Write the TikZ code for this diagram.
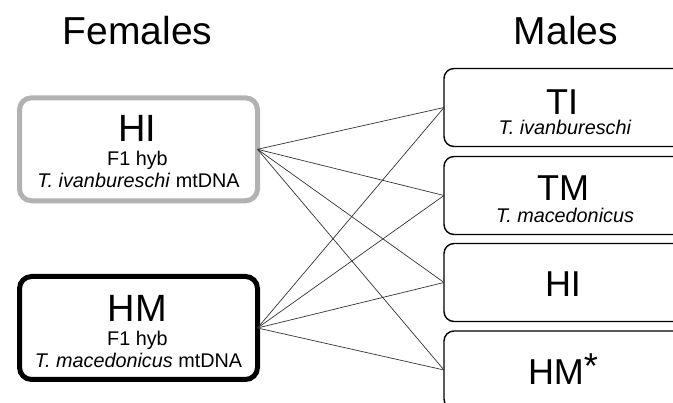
\documentclass[tikz,border=0pt]{standalone}
\usepackage{fontspec}
\setmainfont{Liberation Sans}
\begin{document}
\begin{tikzpicture}[x=1pt,y=-1pt,
  fbox/.style={draw, rounded corners=12pt, line width=5pt, minimum width=238pt, minimum height=103pt, outer sep=0pt, inner sep=0pt},
  mbox/.style={draw, rounded corners=10pt, line width=1.4pt, minimum width=242pt, minimum height=78pt, outer sep=0pt, inner sep=0pt},
  title/.style={anchor=base, font=\fontsize{39}{41}\selectfont, inner sep=0pt},
  big/.style={anchor=base, font=\fontsize{38}{40}\selectfont, inner sep=0pt},
  mbig/.style={anchor=base, font=\fontsize{36}{38}\selectfont, inner sep=0pt},
  small/.style={anchor=base, font=\fontsize{19.8}{21}\selectfont, inner sep=0pt},
  link/.style={draw=black!80, line width=0.7pt}]
\useasboundingbox (0,0) rectangle (673,403);
\clip (0,0) rectangle (673,403);
% titles
\node[title] (tf) at (137.5,45) {Females};
\node[title] (tm) at (566,45) {Males};
% female boxes
\node[fbox, draw=black!30] (fHI) at (138.5,149.3) {};
\node[fbox, draw=black] (fHM) at (138.5,328) {};
\node[big] (fHIt) at (137.5,142) {HI};
\node[small] (fHIa) at (137.5,166) {F1 hyb};
\node[small] (fHIb) at (138.5,188) {\textit{T. ivanbureschi} mtDNA};
\node[big] (fHMt) at (137.5,322) {HM};
\node[small] (fHMa) at (137.5,346) {F1 hyb};
\node[small] (fHMb) at (138.5,368) {\textit{T. macedonicus} mtDNA};
% male boxes
\node[mbox] (mTI) at (565,107.5) {};
\node[mbox] (mTM) at (565,195.5) {};
\node[mbox] (mHI) at (565,282.5) {};
\node[mbox] (mHM) at (565,370) {};
\node[mbig] (mTIt) at (562,114.5) {TI};
\node[small] (mTIb) at (565,134.5) {\textit{T. ivanbureschi}};
\node[mbig] (mTMt) at (563,201) {TM};
\node[small] (mTMb) at (565,223) {\textit{T. macedonicus}};
\node[mbig] (mHIt) at (563,297) {HI};
\node[mbig] (mHMt) at (563,385) {HM\raisebox{6pt}{*}};
% connectors
\foreach \m in {mTI,mTM,mHI,mHM}{
  \draw[link] (fHI.east) -- (\m.west);
  \draw[link] (fHM.east) -- (\m.west);
}
\end{tikzpicture}
\end{document}
